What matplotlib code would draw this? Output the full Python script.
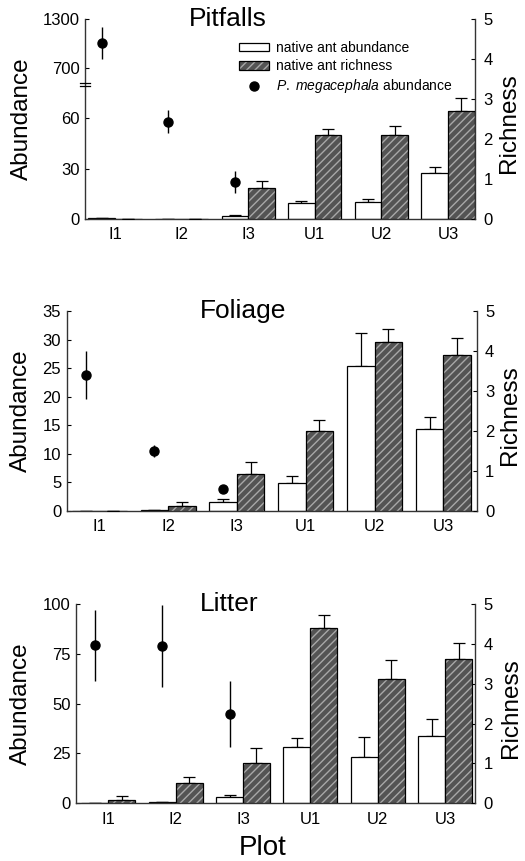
import numpy as np
import matplotlib
matplotlib.use('Agg')
import matplotlib.pyplot as plt
from matplotlib.patches import Patch
from matplotlib.lines import Line2D

plt.rcParams['font.family'] = ['Liberation Sans', 'DejaVu Sans']
plt.rcParams['mathtext.fontset'] = 'custom'
plt.rcParams['mathtext.rm'] = 'Liberation Sans'
plt.rcParams['mathtext.it'] = 'Liberation Sans:italic'
plt.rcParams['hatch.linewidth'] = 1.0

plots = ['I1', 'I2', 'I3', 'U1', 'U2', 'U3']

# pitfalls
pit_abund = [0.3, 0.0, 1.5, 9.3, 9.9, 27.2]
pit_abund_se = [0.0, 0.0, 0.8, 1.6, 1.8, 3.9]
pit_rich = [0.0, 0.0, 0.77, 2.09, 2.09, 2.69]
pit_rich_se = [0.0, 0.0, 0.19, 0.17, 0.24, 0.33]
pit_meg = [1010, 58, 22]
pit_meg_se = [195, 7, 6.5]

# foliage
fol_abund = [0.0, 0.2, 1.45, 4.9, 25.3, 14.4]
fol_abund_se = [0.0, 0.0, 0.55, 1.1, 5.8, 2.0]
fol_rich = [0.0, 0.11, 0.92, 2.0, 4.22, 3.91]
fol_rich_se = [0.0, 0.10, 0.30, 0.26, 0.32, 0.41]
fol_meg = [23.8, 10.5, 3.8]
fol_meg_se = [4.2, 1.1, 0.3]

# litter
lit_abund = [0.3, 0.6, 3.2, 28.3, 23.3, 33.7]
lit_abund_se = [0.0, 0.0, 0.9, 4.4, 10.0, 8.8]
lit_rich = [0.09, 0.50, 1.0, 4.41, 3.11, 3.62]
lit_rich_se = [0.10, 0.16, 0.38, 0.32, 0.49, 0.40]
lit_meg = [79.2, 78.8, 44.8]
lit_meg_se = [17.7, 20.5, 16.5]

W, H = 525, 861
fig = plt.figure(figsize=(W / 100, H / 100), dpi=100)

HATCH_FACE = '#545454'
HATCH_LINE = '#a8a8a8'


def px_axes(left, top, right, bottom):
    return fig.add_axes([left / W, 1 - bottom / H, (right - left) / W, (bottom - top) / H])


# broken axis for the pitfall panel: 0-80 linear, then 500-1300 compressed
brk_x = [-1000, 80, 500, 20000]
brk_f = [-1000, 80, 80.001, 80.001 + (20000 - 500) / 20.5]


def brk_fwd(y):
    return np.interp(y, brk_x, brk_f)


def brk_inv(v):
    return np.interp(v, brk_f, brk_x)


def panel(ax, abund, abund_se, rich, rich_se, meg, meg_se, xlim, title, title_x):
    x = np.arange(len(plots))
    w = 0.4
    ax.bar(x - w / 2, abund, w, color='white', edgecolor='black', lw=0.9, zorder=2)
    ax.errorbar(x - w / 2, abund, yerr=[np.zeros(len(x)), abund_se], fmt='none',
                ecolor='black', elinewidth=0.9, capsize=4.5, capthick=0.9, zorder=1)
    xi = x[:len(meg)] - w / 2
    ax.errorbar(xi, meg, yerr=meg_se, fmt='o', color='black', ms=6.5,
                elinewidth=1.0, capsize=0, zorder=4)

    ax2 = ax.twinx()
    ax2.bar(x + w / 2, rich, w, color=HATCH_FACE, edgecolor=HATCH_LINE, hatch='////', lw=0, zorder=2)
    ax2.bar(x + w / 2, rich, w, fill=False, edgecolor='black', lw=0.9, zorder=3)
    ax2.errorbar(x + w / 2, rich, yerr=[np.zeros(len(x)), rich_se], fmt='none',
                 ecolor='black', elinewidth=0.9, capsize=4.5, capthick=0.9, zorder=1)
    ax2.set_ylim(0, 5)
    ax2.set_yticks([0, 1, 2, 3, 4, 5])

    ax.set_xlim(*xlim)
    ax.set_xticks(x)
    ax.set_xticklabels(plots)
    ax.tick_params(axis='x', length=0, pad=6, labelsize=12)
    ax.tick_params(axis='y', direction='in', length=3, labelsize=12, pad=4)
    ax2.tick_params(axis='y', direction='in', length=3, labelsize=12, pad=6)
    for a in (ax, ax2):
        a.spines['top'].set_visible(False)
        for s in a.spines.values():
            s.set_linewidth(1.0)
            s.set_color('#333333')
    ax.spines['right'].set_visible(False)
    ax2.spines['left'].set_visible(False)
    ax2.spines['bottom'].set_visible(False)

    ax.text(title_x, 1.0, title, transform=ax.transAxes, ha='center', va='center', fontsize=19)
    return ax2


# Pitfalls
ax1 = px_axes(85, 19, 475, 219)
ax1.set_yscale('function', functions=(brk_fwd, brk_inv))
ax1.set_ylim(0, 1300)
ax1.set_yticks([0, 30, 60, 700, 1300])
ax1.yaxis.set_minor_locator(matplotlib.ticker.NullLocator())
panel(ax1, pit_abund, pit_abund_se, pit_rich, pit_rich_se, pit_meg, pit_meg_se,
      (-0.45, 5.405), 'Pitfalls', 0.367)
yb = (brk_fwd(80) - brk_fwd(0)) / (brk_fwd(1300) - brk_fwd(0))
for d in (-0.008, 0.008):
    ax1.plot([-0.012, 0.012], [yb + d, yb + d], transform=ax1.transAxes, color='black',
             lw=0.9, clip_on=False, zorder=5)

handles = [Patch(facecolor='white', edgecolor='black', lw=0.9),
           (Patch(facecolor=HATCH_FACE, edgecolor=HATCH_LINE, hatch='////', lw=0),
            Patch(fill=False, edgecolor='black', lw=0.9)),
           Line2D([], [], marker='o', color='black', ls='none', ms=6.5)]
labels = ['native ant abundance', 'native ant richness', r'$\mathit{P.\ megacephala}$ abundance']
ax1.legend(handles, labels, loc='upper left', bbox_to_anchor=(0.378, 0.925), frameon=False,
           fontsize=10, borderpad=0, handlelength=2.1, handleheight=0.6,
           handletextpad=0.55, labelspacing=0.3)

# Foliage
ax_f = px_axes(66.7, 311, 476.7, 510.7)
ax_f.set_ylim(0, 35)
ax_f.set_yticks(range(0, 36, 5))
panel(ax_f, fol_abund, fol_abund_se, fol_rich, fol_rich_se, fol_meg, fol_meg_se,
      (-0.474, 5.485), 'Foliage', 0.43)

# Litter
ax_l = px_axes(76, 604, 475, 803.3)
ax_l.set_ylim(0, 100)
ax_l.set_yticks([0, 25, 50, 75, 100])
panel(ax_l, lit_abund, lit_abund_se, lit_rich, lit_rich_se, lit_meg, lit_meg_se,
      (-0.48, 5.445), 'Litter', 0.385)

# axis titles
for yc, xa, xr in [(119, 22, 509), (411, 21, 510), (704, 21, 511)]:
    fig.text(xa / W, 1 - yc / H, 'Abundance', rotation=90, ha='center', va='center', fontsize=17.5)
    fig.text(xr / W, 1 - (yc + 4) / H, 'Richness', rotation=90, ha='center', va='center', fontsize=17.5)
fig.text(263 / W, 1 - 848 / H, 'Plot', ha='center', va='center', fontsize=20)

fig.savefig('out.png', dpi=100)
